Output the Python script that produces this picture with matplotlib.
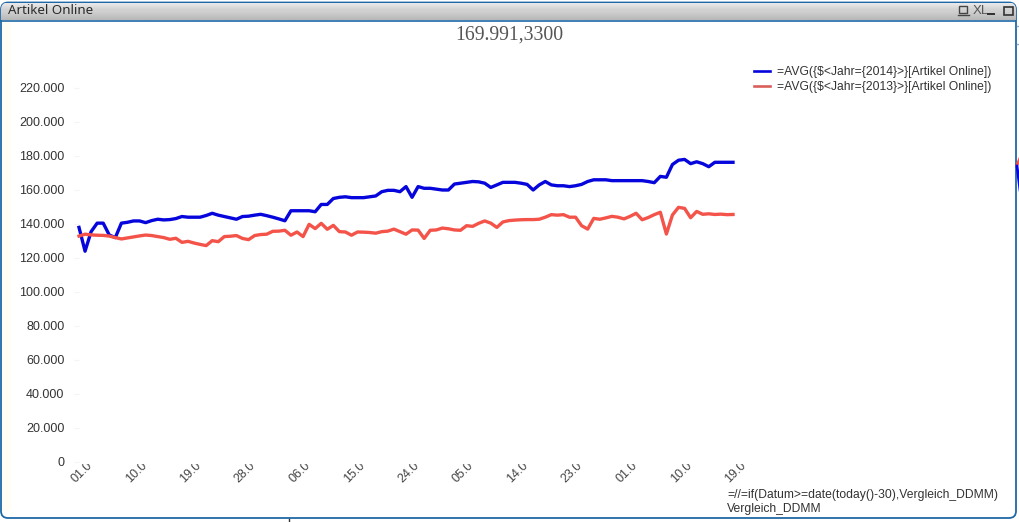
import numpy as np
import matplotlib
matplotlib.use('Agg')
import matplotlib.pyplot as plt
from matplotlib.lines import Line2D
from matplotlib.patches import FancyBboxPatch, Rectangle
from matplotlib.transforms import Bbox

W, H = 1020, 522

# values in thousands (109 days)
online_2014 = [138, 124, 135.5, 140.5, 140.5, 133.5, 132, 140.5, 141, 141.8,
               141.8, 140.8, 142, 142.8, 142.4, 142.6, 143.2, 144.4, 144, 144,
               144, 145, 146.3, 145.2, 144.4, 143.6, 142.8, 144.4, 144.6, 145.2,
               145.7, 144.9, 144, 143, 141.9, 147.8, 147.8, 147.8, 147.8, 147.2,
               151.5, 151.5, 155, 155.7, 156, 155.5, 155.5, 155.5, 156, 156.5,
               159, 159.8, 159.8, 159, 162, 155.7, 162, 161, 161, 160.5,
               160, 160, 163.5, 164, 164.5, 165, 164.8, 164, 161.5, 163,
               164.5, 164.5, 164.5, 164, 163.3, 160, 163, 165, 163, 162.5,
               162.5, 162, 162.5, 163.3, 165, 166, 166, 166, 165.5, 165.5,
               165.5, 165.5, 165.5, 165.5, 165, 164.3, 168, 167.5, 175, 177.5,
               178, 175.5, 176.6, 175.5, 173.7, 176.3, 176.3, 176.3, 176.3]
online_2013 = [132.9, 134, 133.6, 133.4, 133.3, 132.9, 132, 131.2, 131.8, 132.4,
               133, 133.5, 133.2, 132.6, 132, 131, 131.6, 129.2, 129.8, 128.8,
               128, 127.3, 130.2, 129.6, 132.6, 132.8, 133.2, 131.5, 130.8, 133.2,
               133.8, 134, 135.7, 135.8, 136.3, 133.4, 135.3, 132.6, 139.8, 137.3,
               140.4, 136.9, 139.2, 135.5, 135.3, 133.4, 135.3, 135.2, 135, 134.6,
               135.5, 135.8, 137, 135.5, 134, 136.5, 136.4, 131.5, 136.3, 136.5,
               137.6, 137.2, 136.5, 136.3, 139, 138.6, 140.4, 141.8, 140.5, 138,
               141.2, 142, 142.3, 142.5, 142.6, 142.6, 142.8, 144, 145.5, 145.2,
               145.5, 144, 144, 139, 137, 143.3, 142.8, 143.6, 144.5, 144,
               143, 144.5, 146.3, 142.5, 143.8, 145.5, 146.9, 134.1, 145.3, 149.8,
               149.2, 143.7, 147.4, 145.7, 146, 145.6, 145.8, 145.5, 145.6]
tick_pos = [0, 9, 18, 27, 36, 45, 54, 63, 72, 81, 90, 99, 108]
tick_labels = ['01.0', '10.0', '19.0', '28.0', '06.0', '15.0', '24.0',
               '05.0', '14.0', '23.0', '01.0', '10.0', '19.0']
y_ticks = [0, 20, 40, 60, 80, 100, 120, 140, 160, 180, 200, 220]
y_labels = ['0', '20.000', '40.000', '60.000', '80.000', '100.000', '120.000',
            '140.000', '160.000', '180.000', '200.000', '220.000']

BLUE = '#0505dc'
RED = '#f4534a'
BORDER = '#1f69a8'
TEXT = '#333333'
SANS = 'Liberation Sans'

fig = plt.figure(figsize=(W / 100, H / 100), dpi=100, facecolor='white')

# window chrome, drawn in pixel coords
bg = fig.add_axes([0, 0, 1, 1], zorder=0)
bg.set_xlim(0, W)
bg.set_ylim(H, 0)
bg.axis('off')
frame = FancyBboxPatch((1, 2.5), 1015, 515.5, boxstyle='round,pad=0,rounding_size=7',
                       fc='white', ec=BORDER, lw=1.3, zorder=1)
bg.add_patch(frame)
bar = np.array([[232], [230], [226], [222], [218], [214], [211], [209], [208], [206],
                [203], [200], [197], [194], [191], [188], [184]])
bar_im = bg.imshow(bar, cmap='gray', vmin=0, vmax=255, extent=(1, 1016, 20, 3), aspect='auto',
                   interpolation='bilinear', zorder=2)
bar_im.set_clip_path(frame)
bg.set_xlim(0, W)
bg.set_ylim(H, 0)
bg.plot([1.5, 1015.5], [20.5, 20.5], color=BORDER, lw=1.2, zorder=3)
bg.add_patch(Rectangle((2.5, 21.5), 9, 489, fc='#fffdf4', ec='none', zorder=1.5))
bg.text(8, 10.5, 'Artikel Online', family='Noto Sans', weight='bold', fontsize=9.6,
        color='#2b2b2b', va='center', ha='left', zorder=4)

# title bar icons
bg.add_patch(Rectangle((959, 6), 8, 7, fc='none', ec='#444444', lw=1, zorder=4))
bg.plot([958, 969], [14.5, 14.5], color='#444444', lw=1, zorder=4)
bg.text(973, 10.5, 'XL', family=SANS, fontsize=9.5, color='#555555', va='center', ha='left', zorder=4)
bg.add_patch(Rectangle((987, 12.5), 8, 2.5, fc='#333333', ec='none', zorder=4))
bg.add_patch(Rectangle((1004, 6.5), 9, 8, fc='none', ec='#333333', lw=1.2, zorder=4))

# neighbouring sheet objects peeking out behind the window
bg.plot([1017, 1020], [165, 158], color=RED, lw=2)
bg.plot([1017, 1020], [166, 190], color=BLUE, lw=2)
bg.plot([1017, 1020], [26, 26], color='#9aa8b5', lw=1)
bg.plot([1017, 1020], [44, 44], color='#9aa8b5', lw=1)
bg.plot([289.5, 289.5], [519, 522], color='#333333', lw=1)

# plot area: x 79..733 px, y 462..88 px
ax = fig.add_axes([79 / W, 1 - 462 / H, (733 - 79) / W, (462 - 88) / H], zorder=1)
ax.patch.set_alpha(0)
for s in ax.spines.values():
    s.set_visible(False)
x = np.arange(len(online_2014))
ax.plot(x, online_2014, color=BLUE, lw=2.4, solid_joinstyle='round', clip_on=False, zorder=3)
ax.plot(x, online_2013, color=RED, lw=2.4, solid_joinstyle='round', clip_on=False, zorder=4)
ax.set_xlim(0, 108)
ax.set_ylim(0, 220)

ax.set_yticks(y_ticks, y_labels, family=SANS, fontsize=9, color=TEXT)
ax.tick_params(axis='y', length=3.6, width=0.8, color='#f4f4f4', pad=7)
ax.set_xticks(tick_pos)
ax.set_xticklabels([])
ax.tick_params(axis='x', length=0)

# the rotated labels are cut off at the top of the label band
clip = Bbox([[0, 0], [W, H - 464]])
for p, lab in zip(tick_pos, tick_labels):
    t = ax.annotate(lab, xy=(p, 0), xycoords=('data', 'data'), xytext=(7, 3),
                    textcoords='offset pixels', rotation=45, rotation_mode='anchor',
                    ha='right', va='top', family=SANS, fontsize=9, color='#444444',
                    annotation_clip=False)
    t.set_clip_box(clip)
    t.set_clip_on(True)

fig.text(509 / W, 1 - 35 / H, '169.991,3300', family='Liberation Serif', fontsize=14.2,
         color='#555555', ha='center', va='center')

handles = [Line2D([], [], color=BLUE, lw=1.9), Line2D([], [], color='#d9605a', lw=1.9)]
fig.legend(handles, ['=AVG({$<Jahr={2014}>}[Artikel Online])', '=AVG({$<Jahr={2013}>}[Artikel Online])'],
           loc='upper left', bbox_to_anchor=(751.5 / W, 1 - 64 / H), frameon=False,
           prop={'family': SANS, 'size': 8.7}, labelcolor=TEXT, handlelength=1.3,
           handletextpad=0.57, labelspacing=0.25, borderpad=0.2, borderaxespad=0)

fig.text(727 / W, 1 - 495 / H, '=//=if(Datum>=date(today()-30),Vergleich_DDMM)', family=SANS,
         fontsize=8.7, color=TEXT, ha='left', va='center')
fig.text(727 / W, 1 - 509 / H, 'Vergleich_DDMM', family=SANS, fontsize=8.7, color=TEXT,
         ha='left', va='center')

fig.savefig('out.png', dpi=100)
